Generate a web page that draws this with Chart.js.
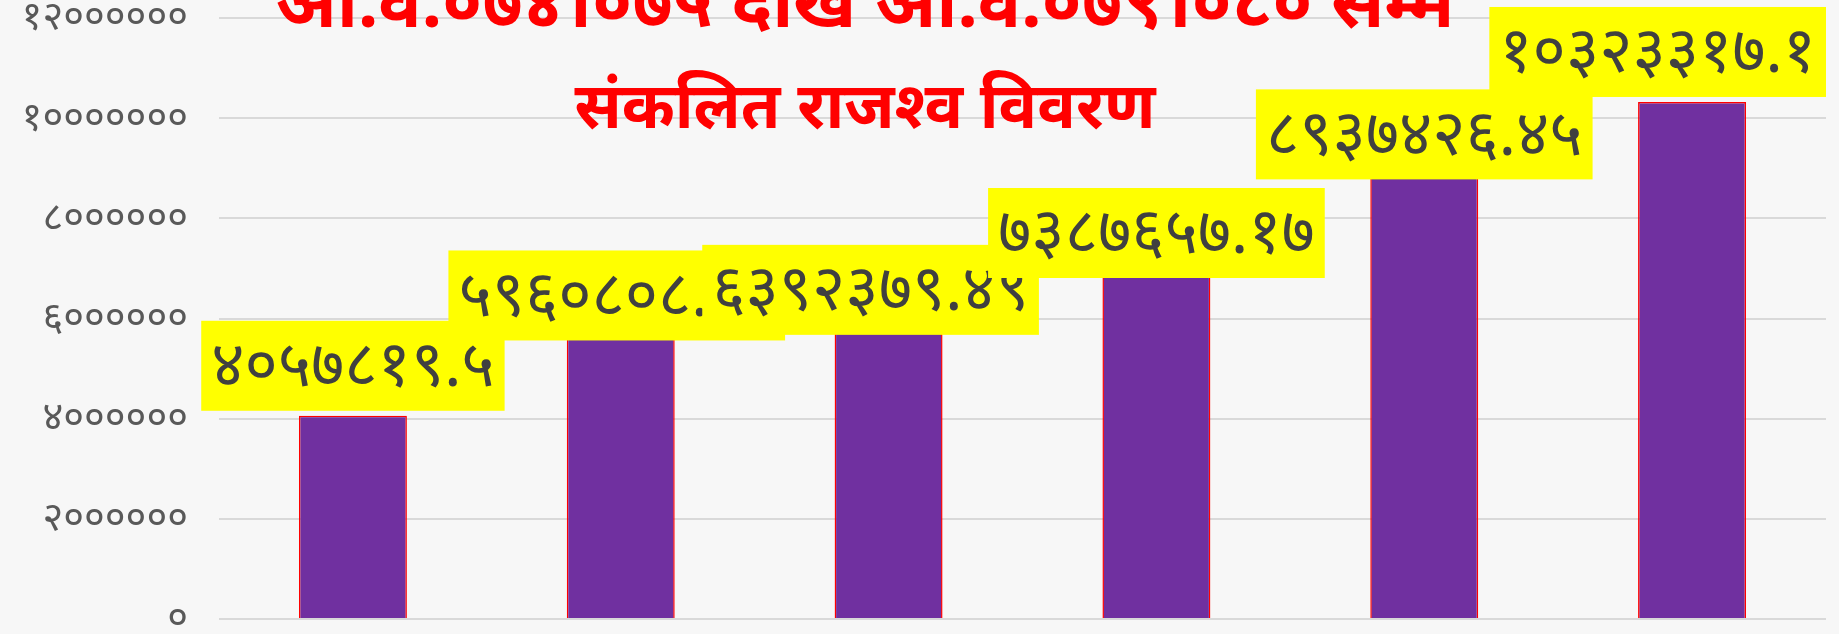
<!DOCTYPE html>
<html>
<head>
<meta charset="utf-8">
<title>संकलित राजश्व विवरण</title>
<script src="https://cdn.jsdelivr.net/npm/chart.js@4.4.1/dist/chart.umd.min.js"></script>
<style>
  html, body { margin: 0; padding: 0; background: #f7f7f7; }
  #wrap { width: 1839px; height: 634px; }
</style>
</head>
<body>
<div id="wrap"><canvas id="revenueChart" width="1839" height="634"></canvas></div>
<script>
// chart data
const fiscalYears = ['०७४/७५', '०७५/७६', '०७६/७७', '०७७/७८', '०७८/७९', '०७९/८०'];
const revenue = [4057819.5, 5960808.25, 6392379.49, 7387657.17, 8937426.45, 10323317.1];
const yMax = 12000000;
const yStep = 2000000;
const titleLines = ['आ.व.०७४।०७५ देखि आ.व.०७९।०८० सम्म', 'संकलित राजश्व विवरण'];

// western digits -> devanagari digits
function toNepali(v) {
    return String(v).replace(/\d/g, d => '०१२३४५६७८९'[d]);
}

const FONT = "'Noto Sans', 'Noto Sans Devanagari', sans-serif";

// title drawn over the plot, like the excel chart
const titlePlugin = {
    id: 'overTitle',
    afterDraw(chart, args, opts) {
        const ctx = chart.ctx;
        ctx.save();
        ctx.fillStyle = opts.color;
        ctx.textAlign = 'center';
        ctx.textBaseline = 'alphabetic';
        opts.lines.forEach((line, i) => {
            ctx.font = 'bold ' + opts.sizes[i] + 'px ' + FONT;
            ctx.fillText(line, opts.x, opts.baselines[i]);
        });
        ctx.restore();
    }
};

// yellow value boxes above the bars
const valueBoxPlugin = {
    id: 'valueBoxes',
    afterDatasetsDraw(chart, args, opts) {
        const ctx = chart.ctx;
        const area = chart.chartArea;
        const meta = chart.getDatasetMeta(0);
        const data = chart.data.datasets[0].data;
        ctx.save();
        ctx.font = opts.size + 'px ' + FONT;
        ctx.textAlign = 'center';
        ctx.textBaseline = 'middle';
        meta.data.forEach((bar, i) => {
            const text = toNepali(data[i]);
            const shift = opts.shift[i] || [0, 0];
            const w = ctx.measureText(text).width + opts.padX * 2;
            const h = opts.boxHeight;
            let cx = bar.x + shift[0];
            let cy = bar.y - opts.gap - h / 2 + shift[1];
            if (cx + w / 2 > area.right) cx = area.right - w / 2;
            ctx.fillStyle = opts.background;
            ctx.fillRect(cx - w / 2, cy - h / 2, w, h);
            ctx.fillStyle = opts.color;
            ctx.fillText(text, cx, cy + opts.textDy);
        });
        ctx.restore();
    }
};

const ctx = document.getElementById('revenueChart').getContext('2d');
const revenueChart = new Chart(ctx, {
    type: 'bar',
    data: {
        labels: fiscalYears,
        datasets: [{
            label: 'राजश्व',
            data: revenue,
            backgroundColor: '#7030a0',
            borderColor: '#ff0000',
            borderWidth: 1.5,
            barPercentage: 0.403,
            categoryPercentage: 1
        }]
    },
    options: {
        responsive: false,
        animation: false,
        layout: {
            padding: { left: 0, right: 13, top: 18, bottom: 15 }
        },
        scales: {
            x: {
                display: false
            },
            y: {
                min: 0,
                max: yMax,
                afterFit: s => { s.width = 219; s.paddingTop = 0; s.paddingBottom = 0; },
                grid: { color: '#d9d9d9', lineWidth: 2, drawTicks: false },
                border: { display: false },
                ticks: {
                    stepSize: yStep,
                    padding: 31,
                    color: '#595959',
                    font: { family: FONT, size: 40, lineHeight: 1 },
                    callback: v => toNepali(v)
                }
            }
        },
        plugins: {
            legend: { display: false },
            tooltip: { enabled: false },
            overTitle: {
                lines: titleLines,
                x: 865,
                baselines: [27, 128],
                sizes: [72, 64],
                color: '#ff0000'
            },
            valueBoxes: {
                size: 64,
                padX: 10,
                boxHeight: 90,
                gap: 5,
                textDy: 2,
                background: '#ffff00',
                color: '#404040',
                shift: [[0, 0], [-4, 25], [-18, 41], [0, 34], [0, 13], [0, 0]]
            }
        }
    },
    plugins: [titlePlugin, valueBoxPlugin]
});
</script>
</body>
</html>
